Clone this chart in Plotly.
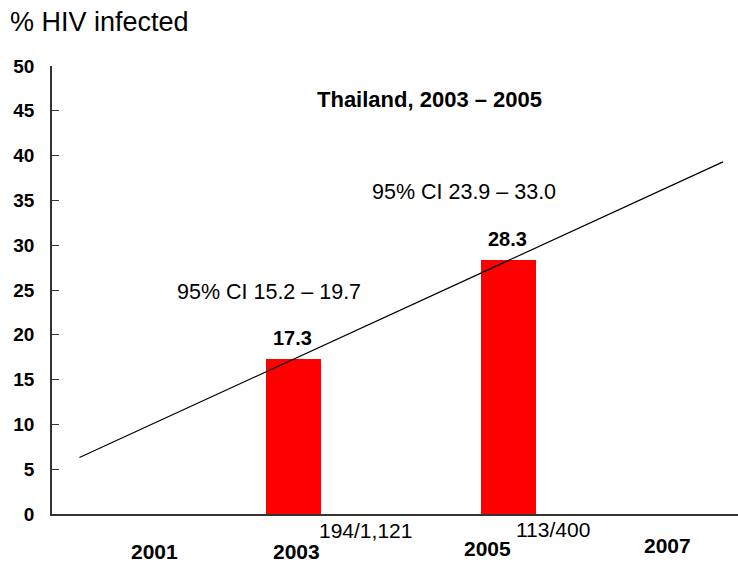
import plotly.graph_objects as go

# ---- data ----
years = [2003, 2005]
hiv_pct = [17.3, 28.3]
sample_sizes = ["194/1,121", "113/400"]
ci_labels = ["95% CI 15.2 \u2013 19.7", "95% CI 23.9 \u2013 33.0"]
trend_years = [2001, 2007]
trend_values = [6.3, 39.3]
year_labels = ["2001", "2003", "2005", "2007"]
y_ticks = [0, 5, 10, 15, 20, 25, 30, 35, 40, 45, 50]
title_text = "% HIV infected"
subtitle_text = "Thailand, 2003 \u2013 2005"

# ---- layout geometry (pixels) ----
W, H = 738, 564
L, R, T, B = 52, 0, 66, 50
PW, PH = W - L - R, H - T - B
FONT = "Liberation Sans, Arial, sans-serif"


def px(x):
    return (x - L) / PW


def py(y):
    return (H - B - y) / PH


fig = go.Figure()

fig.add_trace(go.Bar(
    x=years, y=hiv_pct, width=0.513,
    marker=dict(color="#FF0000", line=dict(width=0)),
    hoverinfo="skip", showlegend=False,
))

fig.add_trace(go.Scatter(
    x=trend_years, y=trend_values, mode="lines",
    line=dict(color="black", width=1.2),
    hoverinfo="skip", showlegend=False,
))

ann = []
# value labels above bars
for yr, v in zip(years, hiv_pct):
    ann.append(dict(x=yr, y=v, xref="x", yref="y", text=f"{v:.1f}",
                    showarrow=False, yanchor="bottom", yshift=8, xshift=-1,
                    font=dict(family=FONT, size=20, color="black", weight="bold")))

# category labels under axis
year_label_pos = [(154, 551), (296, 551), (487, 548), (667, 545)]
for lab, (cx, cy) in zip(year_labels, year_label_pos):
    ann.append(dict(x=px(cx), y=py(cy), xref="paper", yref="paper", text=lab,
                    showarrow=False, xanchor="center", yanchor="middle",
                    font=dict(family=FONT, size=21, color="black", weight="bold")))

# sample sizes
ss_pos = [(365, 530), (553, 529)]
for lab, (cx, cy) in zip(sample_sizes, ss_pos):
    ann.append(dict(x=px(cx), y=py(cy), xref="paper", yref="paper", text=lab,
                    showarrow=False, xanchor="center", yanchor="middle",
                    font=dict(family=FONT, size=21, color="black")))

# CI labels
ci_pos = [(269, 292), (464, 192)]
for lab, (cx, cy) in zip(ci_labels, ci_pos):
    ann.append(dict(x=px(cx), y=py(cy), xref="paper", yref="paper", text=lab,
                    showarrow=False, xanchor="center", yanchor="middle",
                    font=dict(family=FONT, size=21.5, color="black")))

# subtitle
ann.append(dict(x=px(429), y=py(100), xref="paper", yref="paper", text=subtitle_text,
                showarrow=False, xanchor="center", yanchor="middle",
                font=dict(family=FONT, size=22, color="black", weight="bold")))

# axis title
ann.append(dict(x=px(8), y=py(22), xref="paper", yref="paper", text=title_text,
                showarrow=False, xanchor="left", yanchor="middle",
                font=dict(family=FONT, size=27, color="black")))

fig.update_layout(
    width=W, height=H,
    margin=dict(l=L, r=R, t=T, b=B, pad=0),
    paper_bgcolor="white", plot_bgcolor="white",
    annotations=ann,
    bargap=0,
    xaxis=dict(range=[2000.744, 2007.14], showgrid=False, zeroline=False,
               showline=True, linecolor="#333333", linewidth=1.5,
               showticklabels=False, ticks="", fixedrange=True),
    yaxis=dict(range=[0, 50], tickvals=y_ticks, showgrid=False, zeroline=False,
               showline=True, linecolor="#333333", linewidth=1.5,
               ticks="inside", ticklen=7, tickwidth=1.2, tickcolor="#333333",
               ticklabelstandoff=12,
               tickfont=dict(family=FONT, size=19, color="black", weight="bold"),
               fixedrange=True),
)

fig.write_html("out.html", config={"displayModeBar": False})
